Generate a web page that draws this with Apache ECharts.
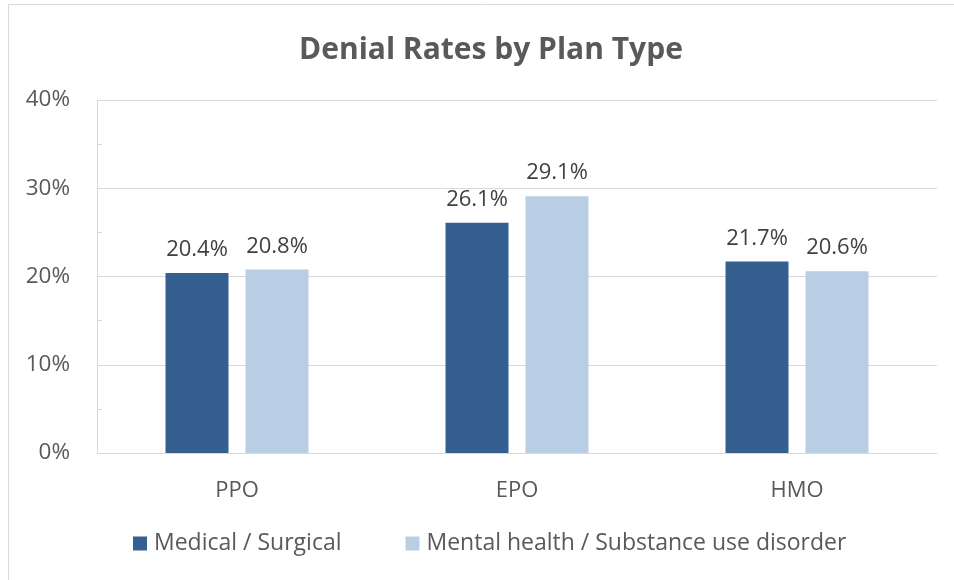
<!DOCTYPE html>
<html>
<head>
<meta charset="utf-8">
<script src="https://cdn.jsdelivr.net/npm/echarts@6/dist/echarts.min.js"></script>
<style>
    html, body { margin: 0; padding: 0; background: #fff; }
    #chart { width: 954px; height: 580px; }
</style>
</head>
<body>
<div id="chart"></div>
<script>
'use strict';

var plan_types = ['PPO', 'EPO', 'HMO'];
var medical_surgical = [20.4, 26.1, 21.7];
var mental_health = [20.8, 29.1, 20.6];
var series_names = ['Medical / Surgical', 'Mental health / Substance use disorder'];

var font_name = '"Open Sans", "Noto Sans", sans-serif';
var text_gray = '#595959';

var my_chart = echarts.init(document.getElementById('chart'));

my_chart.setOption({
    animation: false,
    textStyle: {
        fontFamily: font_name
    },
    graphic: [{
        type: 'rect',
        shape: { x: 8.5, y: 4.5, width: 960, height: 600 },
        style: { fill: 'none', stroke: '#d9d9d9', lineWidth: 1 },
        silent: true
    }],
    title: {
        text: 'Denial Rates by Plan Type',
        left: 294,
        top: 30,
        textStyle: {
            fontFamily: font_name,
            fontSize: 30,
            fontWeight: 'bold',
            color: text_gray
        }
    },
    legend: {
        data: series_names,
        bottom: 20,
        left: 128,
        itemWidth: 14,
        itemHeight: 14,
        itemGap: 64,
        icon: 'rect',
        textStyle: {
            fontFamily: font_name,
            fontSize: 23,
            color: text_gray,
            padding: [0, 0, 0, 2]
        }
    },
    grid: {
        left: 97,
        right: 17,
        top: 100,
        bottom: 127,
        containLabel: false   //位置按参考图固定
    },
    xAxis: {
        type: 'category',
        data: plan_types,
        axisLine: {
            lineStyle: { color: '#d9d9d9', width: 1 }
        },
        axisTick: { show: false },
        axisLabel: {
            fontSize: 22,
            color: text_gray,
            margin: 27
        }
    },
    yAxis: {
        type: 'value',
        min: 0,
        max: 40,
        interval: 10,
        axisLine: {
            show: true,
            lineStyle: { color: '#d9d9d9', width: 1 }
        },
        axisTick: { show: false, inside: true },
        minorTick: {
            show: true,
            splitNumber: 2,
            length: 5,
            lineStyle: { color: '#d9d9d9' }
        },
        splitLine: {
            show: true,
            lineStyle: { color: '#d9d9d9', width: 1 }
        },
        axisLabel: {
            fontSize: 22.5,
            color: text_gray,
            margin: 27,
            formatter: '{value}%'
        }
    },
    series: [{
        name: series_names[0],
        type: 'bar',
        data: medical_surgical,
        barWidth: 63,
        barGap: '27%',
        itemStyle: { color: '#365f91' },
        label: {
            show: true,
            position: 'top',
            distance: 12,
            fontSize: 22,
            color: '#404040',
            formatter: function(p) { return p.value.toFixed(1) + '%'; }
        }
    }, {
        name: series_names[1],
        type: 'bar',
        data: mental_health,
        barWidth: 63,
        barGap: '27%',
        itemStyle: { color: '#b9cde5' },
        label: {
            show: true,
            position: 'top',
            distance: 12,
            fontSize: 22,
            color: '#404040',
            formatter: function(p) { return p.value.toFixed(1) + '%'; }
        }
    }]
});
</script>
</body>
</html>
